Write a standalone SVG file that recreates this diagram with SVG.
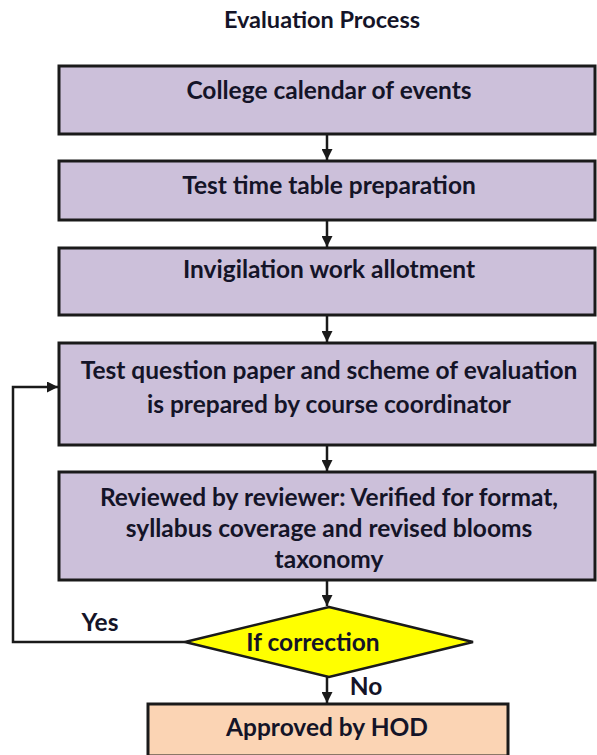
<svg xmlns="http://www.w3.org/2000/svg" width="597" height="755" viewBox="0 0 597 755">
<defs>
<style>
text{font-family:Lato,"Open Sans","Liberation Sans",sans-serif;font-weight:bold;fill:#141428;text-anchor:middle}
.t{font-size:24.5px}
.title{font-size:23.5px}
.box{fill:#CCC0DA;stroke:#1a1a1a;stroke-width:3}
.hod{fill:#FBD4B4;stroke:#1a1a1a;stroke-width:3}
.dia{fill:#FFFF00;stroke:#1a1a1a;stroke-width:2.5}
.c{fill:none;stroke:#1a1a1a;stroke-width:2.5}
</style>
<marker id="ah" viewBox="0 0 10 10" refX="10" refY="5" markerWidth="4.4" markerHeight="4.4" orient="auto" markerUnits="strokeWidth">
<path d="M0,0 L10,5 L0,10 z" fill="#1a1a1a"/>
</marker>
</defs>
<rect width="597" height="755" fill="#ffffff"/>
<text class="title" x="322" y="28">Evaluation Process</text>
<g id="n1"><rect class="box" x="59" y="66" width="536" height="68"/><text class="t" x="329" y="99">College calendar of events</text></g>
<g id="n2"><rect class="box" x="59" y="161" width="536" height="59"/><text class="t" x="329" y="194">Test time table preparation</text></g>
<g id="n3"><rect class="box" x="59" y="248" width="536" height="67"/><text class="t" x="329" y="278">Invigilation work allotment</text></g>
<g id="n4"><rect class="box" x="59" y="343" width="536" height="102"/><text class="t" x="329" y="379">Test question paper and scheme of evaluation</text><text class="t" x="329" y="413">is prepared by course coordinator</text></g>
<g id="n5"><rect class="box" x="59" y="472" width="536" height="108"/><text class="t" x="329" y="506">Reviewed by reviewer: Verified for format,</text><text class="t" x="329" y="537">syllabus coverage and revised blooms</text><text class="t" x="329" y="568">taxonomy</text></g>
<g id="n6"><polygon class="dia" points="329,607 473,642 329,677 185,642"/><text class="t" x="313" y="651">If correction</text></g>
<g id="n7"><rect class="hod" x="148" y="704" width="360" height="52"/><text class="t" x="327" y="736">Approved by HOD</text></g>
<g id="connectors">
<line class="c" x1="327" y1="134" x2="327" y2="160" marker-end="url(#ah)"/>
<line class="c" x1="327" y1="220" x2="327" y2="247" marker-end="url(#ah)"/>
<line class="c" x1="327" y1="315" x2="327" y2="342" marker-end="url(#ah)"/>
<line class="c" x1="327" y1="445" x2="327" y2="471" marker-end="url(#ah)"/>
<line class="c" x1="327" y1="580" x2="327" y2="606" marker-end="url(#ah)"/>
<line class="c" x1="327" y1="677" x2="327" y2="703" marker-end="url(#ah)"/>
<polyline class="c" points="185,642 13,642 13,387 58,387" marker-end="url(#ah)"/>
<text class="t" x="100" y="631">Yes</text>
<text class="t" x="366" y="695">No</text>
</g>
</svg>
